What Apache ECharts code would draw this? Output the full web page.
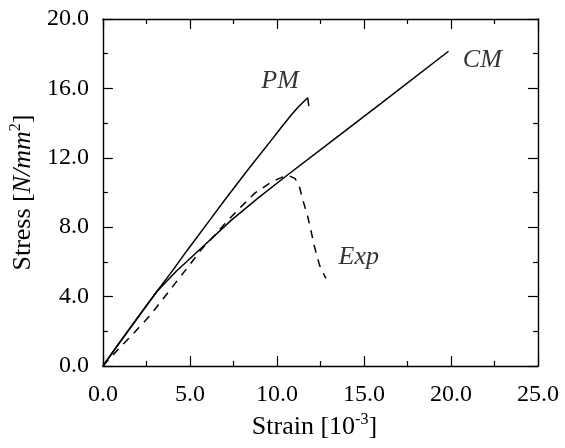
<!DOCTYPE html>
<html>
<head>
<meta charset="utf-8">
<script src="https://cdn.jsdelivr.net/npm/echarts@6/dist/echarts.min.js"></script>
<style>
  html, body { margin: 0; padding: 0; background: #fff; }
  #chart { width: 565px; height: 448px; }
</style>
</head>
<body>
<div id="chart"></div>
<script>
// stress-strain curves (strain in 1e-3, stress in N/mm2)
var pmStrain = [0, 1.0, 2.0, 3.09, 4.0, 4.86, 6.14, 7.0, 8.4, 9.76, 10.3, 10.81, 11.2, 11.5, 11.77, 11.83]
var pmStress = [0, 1.4, 2.78, 4.28, 5.5, 6.69, 8.41, 9.57, 11.4, 13.12, 13.82, 14.45, 14.9, 15.2, 15.46, 14.98]

var cmStrain = [0, 1.0, 2.0, 3.09, 4.2, 5.66, 7.38, 9.0, 10.53, 13.0, 16.0, 19.86]
var cmStress = [0, 1.42, 2.8, 4.28, 5.45, 6.8, 8.41, 9.75, 10.95, 12.85, 15.15, 18.14]

var expStrain = [0, 0.9, 1.85, 2.7, 3.4, 4.04, 4.9, 5.66, 6.5, 7.09, 7.76, 8.71, 9.67, 10.34, 10.72, 11.05, 11.3, 11.48, 11.77, 12.0, 12.15, 12.45, 12.81]
var expStress = [0, 0.98, 1.98, 2.9, 3.8, 4.62, 5.72, 6.72, 7.62, 8.3, 8.99, 9.95, 10.6, 10.9, 10.95, 10.8, 10.3, 9.6, 8.6, 7.6, 6.9, 5.8, 5.05]

// curve names and where they sit
var curveNames = ['PM', 'CM', 'Exp']
var nameStrain = [10.18, 21.8, 14.7]
var nameStress = [16.43, 17.64, 6.28]

var xTicks = { min: 0, max: 25, step: 5 }
var yTicks = { min: 0, max: 20, step: 4 }

function zip(a, b) {
  return a.map(function (v, i) { return [v, b[i]] })
}

var serif = 'Liberation Serif'
var black = '#000'

function makeAxis(range, pos, withLabels) {
  return {
    type: 'value',
    position: pos,
    min: range.min,
    max: range.max,
    interval: range.step,
    axisLine: { show: true, onZero: false, lineStyle: { color: black, width: 1.4 } },
    axisTick: { show: true, inside: true, length: 10, lineStyle: { color: black, width: 1.2 } },
    minorTick: { show: true, splitNumber: 2, length: 5, lineStyle: { color: black, width: 1.2 } },
    splitLine: { show: false },
    axisLabel: {
      show: withLabels,
      fontFamily: serif,
      fontSize: 24,
      color: black,
      margin: pos === 'bottom' ? 17 : 14,
      formatter: function (v) { return v.toFixed(1) }
    }
  }
}

var xBottom = makeAxis(xTicks, 'bottom', true)
xBottom.name = '{a|Strain [10}{s|-3}{a|]}'
xBottom.nameLocation = 'middle'
xBottom.nameGap = 45
xBottom.nameTextStyle = {
  padding: [0, 12, 0, 0],
  rich: {
    a: { fontFamily: serif, fontSize: 26, color: black, lineHeight: 30 },
    s: { fontFamily: serif, fontSize: 16, color: black, lineHeight: 16, verticalAlign: 'top' }
  }
}
var xTop = makeAxis(xTicks, 'top', false)

var yLeft = makeAxis(yTicks, 'left', true)
yLeft.name = '{a|Stress [}{i|N/mm}{s|2}{a|]}'
yLeft.nameLocation = 'middle'
yLeft.nameRotate = 90
yLeft.nameGap = 63
yLeft.nameTextStyle = {
  rich: {
    a: { fontFamily: serif, fontSize: 26, color: black, lineHeight: 30 },
    i: { fontFamily: serif, fontSize: 26, fontStyle: 'italic', color: black, lineHeight: 30 },
    s: { fontFamily: serif, fontSize: 16, color: black, lineHeight: 16, verticalAlign: 'top' }
  }
}
var yRight = makeAxis(yTicks, 'right', false)

var chart = echarts.init(document.getElementById('chart'))

chart.setOption({
  animation: false,
  backgroundColor: '#fff',
  grid: { left: 101, right: 27, top: 19, bottom: 82, containLabel: false },
  xAxis: [xBottom, xTop],
  yAxis: [yLeft, yRight],
  series: [
    {
      name: 'PM', type: 'line', data: zip(pmStrain, pmStress),
      showSymbol: false,
      lineStyle: { color: black, width: 1.5 }
    },
    {
      name: 'CM', type: 'line', data: zip(cmStrain, cmStress),
      showSymbol: false,
      lineStyle: { color: black, width: 1.5 }
    },
    {
      name: 'Exp', type: 'line', data: zip(expStrain, expStress),
      showSymbol: false,
      lineStyle: { color: black, width: 1.5, type: [8, 7] }
    },
    {
      type: 'scatter', silent: true, symbolSize: 0,
      data: curveNames.map(function (n, i) { return [nameStrain[i], nameStress[i], n] }),
      label: {
        show: true, position: 'inside',
        formatter: function (p) { return p.value[2] },
        fontFamily: serif, fontSize: 26, fontStyle: 'italic', color: black
      }
    }
  ]
})

window.addEventListener('resize', function () {
  chart.resize()
})
</script>
</body>
</html>
